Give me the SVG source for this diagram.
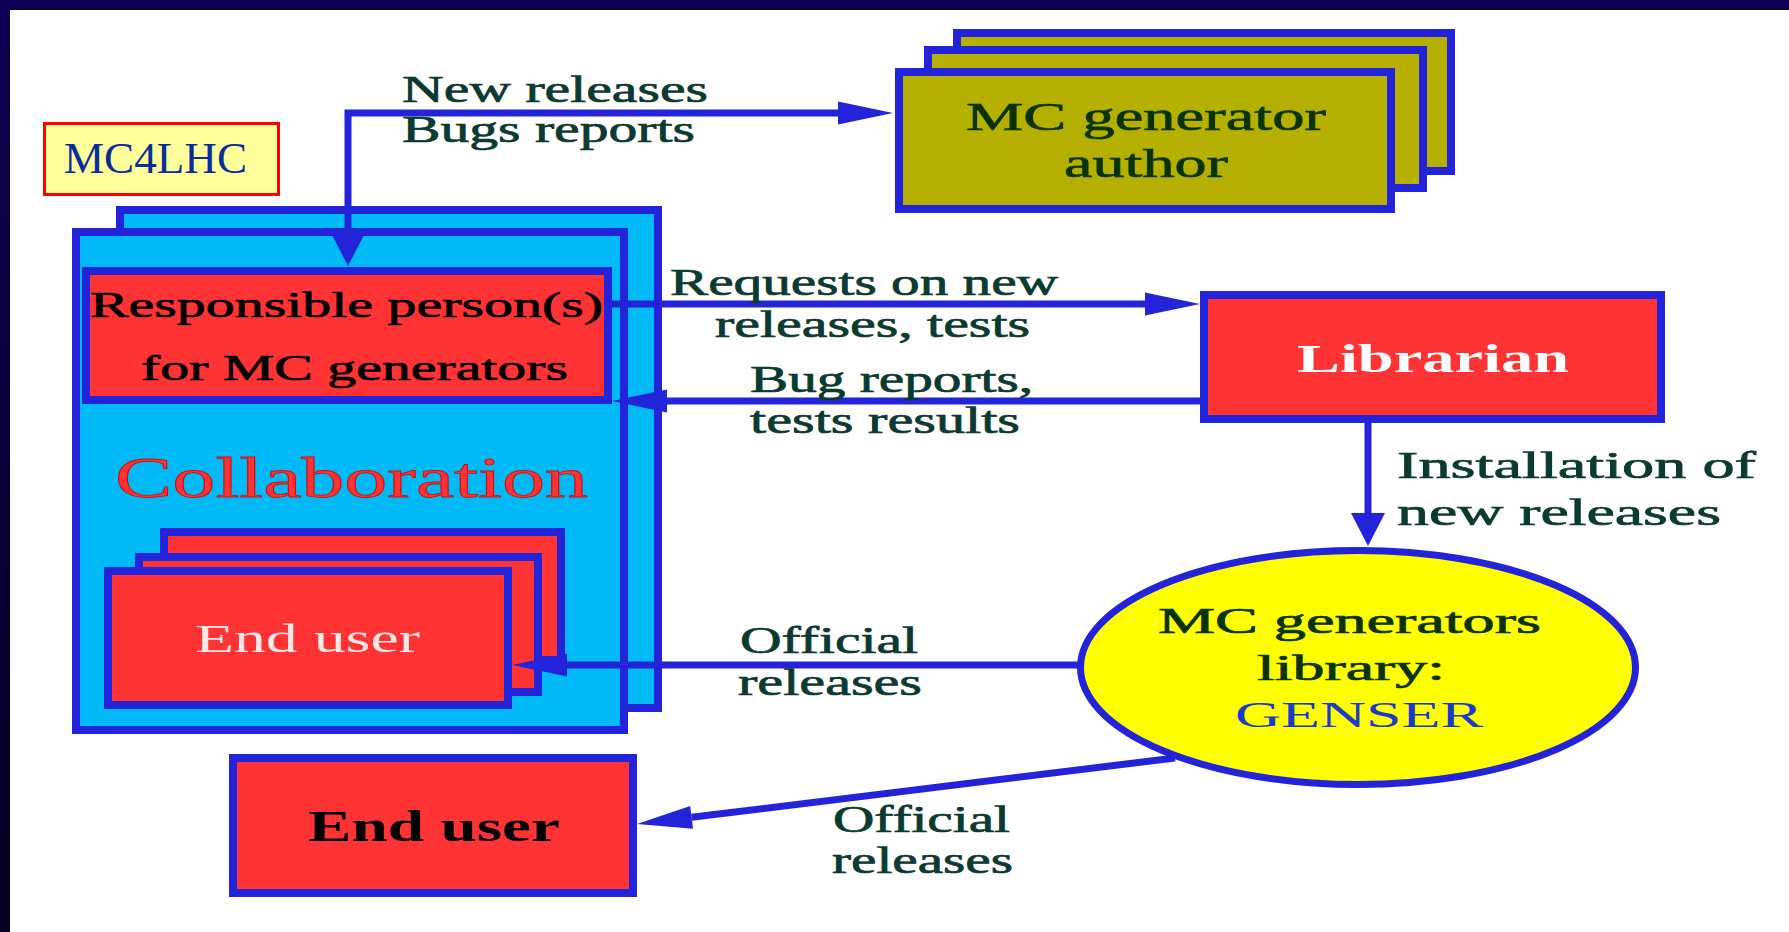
<svg xmlns="http://www.w3.org/2000/svg" width="1789" height="932" viewBox="0 0 1789 932">
<defs>
<style>
.box{stroke:#2323d9;stroke-width:8}
.red{fill:#ff3333}
.cyan{fill:#00baf8}
.olive{fill:#b5b000}
.t{font-family:"Liberation Serif","Times New Roman",serif}
.heavy{stroke-width:0.7}
.lbl{fill:#0b3a30;stroke:#0b3a30;font-size:37px}
.dark{fill:#0a3300;stroke:#0a3300}
.blk{fill:#000000;stroke:#000000}
.conn{fill:none;stroke:#2323d9;stroke-width:7;stroke-linejoin:miter}
</style>
<marker id="ah" markerUnits="userSpaceOnUse" markerWidth="56" markerHeight="24" refX="0" refY="11.5" orient="auto" overflow="visible"><path d="M0,0 L55,11.5 L0,23 z" fill="#2323d9"/></marker>
<marker id="av" markerUnits="userSpaceOnUse" markerWidth="35" markerHeight="35" refX="0" refY="17" orient="auto-start-reverse" overflow="visible"><path d="M0,0 L33,17 L0,34 z" fill="#2323d9"/></marker>
<linearGradient id="lg" x1="0" y1="0" x2="0" y2="1"><stop offset="0" stop-color="#0e0052"/><stop offset="1" stop-color="#06001e"/></linearGradient>
</defs>
<rect x="0" y="0" width="1789" height="932" fill="#ffffff"/>
<rect x="0" y="0" width="1789" height="10" fill="#0e0052"/>
<rect x="0" y="0" width="10" height="932" fill="url(#lg)"/>

<g id="mc4lhc">
<rect x="44.5" y="123.5" width="234" height="71" fill="#ffff99" stroke="#ff0000" stroke-width="3"/>
<text class="t" x="64" y="173" font-size="45" fill="#0a2d9c" textLength="183" lengthAdjust="spacingAndGlyphs">MC4LHC</text>
</g>

<g id="mc-generator-author">
<rect class="box olive" x="957" y="33" width="494" height="138"/>
<rect class="box olive" x="928" y="50" width="495" height="138"/>
<rect class="box olive" x="899" y="72" width="492" height="137"/>
<text class="t dark heavy" x="966" y="130" font-size="41" textLength="360" lengthAdjust="spacingAndGlyphs">MC generator</text>
<text class="t dark heavy" x="1064" y="177" font-size="41" textLength="164" lengthAdjust="spacingAndGlyphs">author</text>
</g>

<g id="collaboration">
<rect class="box cyan" x="120" y="210" width="538" height="498"/>
<rect class="box cyan" x="76" y="232" width="548" height="498"/>
<text class="t" x="115" y="497" font-size="56" fill="#ff3333" stroke="#c81010" stroke-width="0.8" textLength="473" lengthAdjust="spacingAndGlyphs">Collaboration</text>
</g>

<g id="responsible">
<rect class="box red" x="86" y="271" width="522" height="129"/>
<text class="t blk heavy" x="90" y="317" font-size="36" textLength="513" lengthAdjust="spacingAndGlyphs">Responsible person(s)</text>
<text class="t blk heavy" x="141" y="380" font-size="36" textLength="427" lengthAdjust="spacingAndGlyphs">for MC generators</text>
</g>

<g id="end-users-collab">
<rect class="box red" x="164" y="532" width="397" height="128"/>
<rect class="box red" x="139" y="557" width="399" height="135"/>
<rect class="box red" x="108" y="571" width="400" height="134"/>
<text class="t" x="195" y="652" font-size="41" fill="#ffe8e8" textLength="225" lengthAdjust="spacingAndGlyphs">End user</text>
</g>

<g id="librarian">
<rect class="box red" x="1204" y="295" width="457" height="124"/>
<text class="t" x="1297" y="372" font-size="41" font-weight="bold" fill="#ffffff" textLength="272" lengthAdjust="spacingAndGlyphs">Librarian</text>
</g>

<g id="genser">
<ellipse cx="1358" cy="667.5" rx="277.5" ry="117" fill="#ffff00" stroke="#2323d9" stroke-width="7"/>
<text class="t dark heavy" x="1158" y="633" font-size="35" textLength="383" lengthAdjust="spacingAndGlyphs">MC generators</text>
<text class="t dark heavy" x="1257" y="680" font-size="35" textLength="188" lengthAdjust="spacingAndGlyphs">library:</text>
<text class="t" x="1235" y="727" font-size="36" fill="#1a3acc" textLength="248" lengthAdjust="spacingAndGlyphs">GENSER</text>
</g>

<g id="end-user">
<rect class="box red" x="233" y="758" width="400" height="135"/>
<text class="t" x="308" y="841" font-size="45" font-weight="bold" fill="#000000" textLength="252" lengthAdjust="spacingAndGlyphs">End user</text>
</g>

<g id="connectors">
<path class="conn" d="M348,233 V113 H838" marker-start="url(#av)" marker-end="url(#ah)"/>
<path class="conn" d="M612,304 H1145" marker-end="url(#ah)"/>
<path class="conn" d="M1200,401 H667" marker-end="url(#ah)"/>
<path class="conn" d="M1368,423 V513" marker-end="url(#av)"/>
<path class="conn" d="M1078,665 H567" marker-end="url(#ah)"/>
<path class="conn" d="M1175,758 L691.6,817.3" marker-end="url(#ah)"/>
<g id="connector-labels" class="t lbl heavy">
<text x="402" y="102" textLength="306" lengthAdjust="spacingAndGlyphs">New releases</text>
<text x="402" y="142" textLength="293" lengthAdjust="spacingAndGlyphs">Bugs reports</text>
<text x="670" y="295" textLength="388" lengthAdjust="spacingAndGlyphs">Requests on new</text>
<text x="715" y="337" textLength="315" lengthAdjust="spacingAndGlyphs">releases, tests</text>
<text x="750" y="392" textLength="283" lengthAdjust="spacingAndGlyphs">Bug reports,</text>
<text x="750" y="433" textLength="270" lengthAdjust="spacingAndGlyphs">tests results</text>
<text x="1397" y="478" textLength="359" lengthAdjust="spacingAndGlyphs">Installation of</text>
<text x="1397" y="525" textLength="324" lengthAdjust="spacingAndGlyphs">new releases</text>
<text x="740" y="653" textLength="178" lengthAdjust="spacingAndGlyphs">Official</text>
<text x="738" y="695" textLength="184" lengthAdjust="spacingAndGlyphs">releases</text>
<text x="833" y="832" textLength="177" lengthAdjust="spacingAndGlyphs">Official</text>
<text x="832" y="873" textLength="181" lengthAdjust="spacingAndGlyphs">releases</text>
</g>
</g>
</svg>
